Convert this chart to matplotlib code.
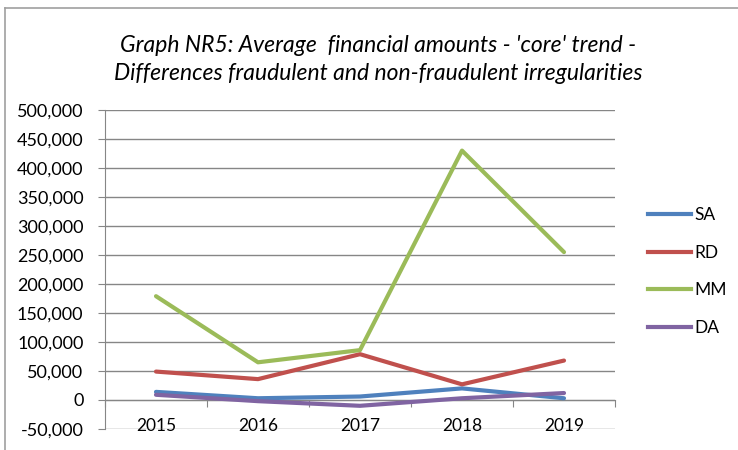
import matplotlib
matplotlib.use("Agg")
import matplotlib.pyplot as plt
from matplotlib.ticker import FuncFormatter
from matplotlib.lines import Line2D

years = ["2015", "2016", "2017", "2018", "2019"]
series_names = ["SA", "RD", "MM", "DA"]
sa = [14000, 3000, 6000, 20000, 3000]
rd = [49000, 36000, 79000, 27000, 68000]
mm = [179000, 65000, 86000, 430000, 255000]
da = [9000, -2000, -10000, 3000, 12000]
colors = ["#4F81BD", "#C0504D", "#9BBB59", "#8064A2"]
yticks = list(range(-50000, 500001, 50000))

plt.rcParams['font.family'] = ['Lato', 'DejaVu Sans']
gray = "#868686"

fig = plt.figure(figsize=(7.38, 4.5), dpi=100)
ax = fig.add_axes([105/738, 1-429/450, (615-105)/738, (429-110)/450])

x = list(range(len(years)))
for vals, c, name in zip([sa, rd, mm, da], colors, series_names):
    ax.plot(x, vals, color=c, lw=3, label=name, solid_capstyle='round', zorder=3)

ax.set_xlim(-0.5, len(years) - 0.5)
ax.set_ylim(-50000, 500000)
ax.set_yticks(yticks)
ax.yaxis.set_major_formatter(FuncFormatter(lambda v, p: f"{int(v):,}"))
ax.grid(axis='y', color=gray, lw=1)
ax.set_axisbelow(True)
for s in ['top', 'right', 'bottom']:
    ax.spines[s].set_visible(False)
ax.spines['left'].set_color(gray)
ax.tick_params(axis='y', direction='out', length=5, color=gray, labelsize=13, pad=10.5)
ax.set_xticks(x)
ax.set_xticklabels(years)
ax.tick_params(axis='x', length=0, labelsize=12.5, pad=-8)

sec = ax.secondary_xaxis(1/11)
sec.set_xticks([i + 0.5 for i in range(-1, len(years))])
sec.tick_params(direction='out', length=5, color=gray, labelbottom=False)
sec.spines['bottom'].set_color(gray)

handles = [Line2D([0], [0], color=c, lw=3) for c in colors]
fig.legend(handles, series_names, loc='upper left', bbox_to_anchor=(641/738, 1-200/450),
           frameon=False, fontsize=12.5, handlelength=2.5, handletextpad=0.2,
           labelspacing=1.25, borderaxespad=0)

fig.text(378/738, 1-45/450, "Graph NR5: Average  financial amounts - 'core' trend -",
         ha='center', va='center', fontsize=16.5, style='italic')
fig.text(378/738, 1-73/450, "Differences fraudulent and non-fraudulent irregularities",
         ha='center', va='center', fontsize=16.5, style='italic')

fig.add_artist(Line2D([5/738, 5/738], [0, 1-8/450], color="#A0A0A0", lw=1.2, transform=fig.transFigure))
fig.add_artist(Line2D([5/738, 1], [1-8/450, 1-8/450], color="#A0A0A0", lw=1.2, transform=fig.transFigure))

fig.savefig("out.png", dpi=100)
